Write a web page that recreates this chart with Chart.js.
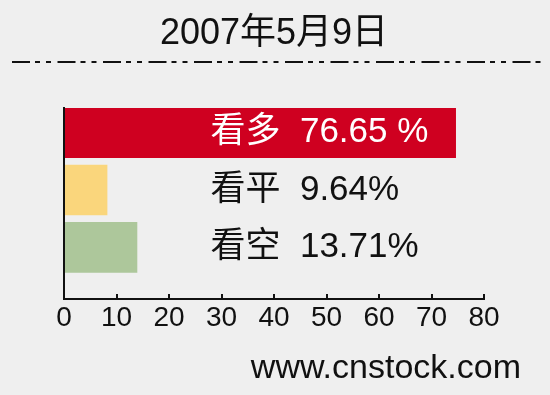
<!DOCTYPE html>
<html>
<head>
<meta charset="utf-8">
<script src="https://cdn.jsdelivr.net/npm/chart.js@4/dist/chart.umd.min.js"></script>
<style>
  html, body { margin: 0; padding: 0; background: #efefef; }
  #wrap { width: 550px; height: 395px; }
</style>
</head>
<body>
<div id="wrap"><canvas id="chart" width="550" height="395"></canvas></div>
<script>
// values
var titleText = '2007年5月9日';
var categories = ['看多', '看平', '看空'];
var barValues = [74.6, 8.2, 13.9];          // drawn bar lengths
var pctLabels = ['76.65 %', '9.64%', '13.71%'];
var xMin = 0, xMax = 80, xStep = 10;
var sourceText = 'www.cnstock.com';

var barColors = ['#cf0020', '#fad67c', '#adc79b'];
var labelColors = ['#ffffff', '#111111', '#111111'];
var FONT = '"Liberation Sans", "Noto Sans CJK SC", Arial, sans-serif';

var points = [];
for (var i = 0; i < categories.length; i++) {
    points.push({x: barValues[i], y: i});
}

// small tick marks pointing up into the plot, one per x tick
var innerTicks = {
    id: 'innerTicks',
    afterDraw: function(chart) {
        var ctx = chart.ctx;
        var xs = chart.scales.x;
        var bottom = chart.chartArea.bottom;
        ctx.save();
        ctx.strokeStyle = '#111';
        ctx.lineWidth = 2;
        xs.ticks.forEach(function(t) {
            var px = Math.round(xs.getPixelForValue(t.value));
            ctx.beginPath();
            ctx.moveTo(px, bottom);
            ctx.lineTo(px, bottom - 5);
            ctx.stroke();
        });
        ctx.restore();
    }
};

// text next to each bar, placed from the bar element itself
var barText = {
    id: 'barText',
    afterDatasetsDraw: function(chart) {
        var ctx = chart.ctx;
        var xs = chart.scales.x;
        var meta = chart.getDatasetMeta(0);
        ctx.save();
        ctx.font = '35px ' + FONT;
        ctx.textAlign = 'left';
        ctx.textBaseline = 'middle';
        meta.data.forEach(function(bar, i) {
            ctx.fillStyle = labelColors[i];
            ctx.fillText(categories[i] + '  ' + pctLabels[i], xs.getPixelForValue(27.9), bar.y);
        });
        ctx.restore();
    }
};

// dash-dot-dot rule under the title and the source line at the bottom
var decor = {
    id: 'decor',
    afterDraw: function(chart) {
        var ctx = chart.ctx;
        ctx.save();
        ctx.strokeStyle = '#111';
        ctx.lineWidth = 2;
        ctx.setLineDash([18, 5, 5, 6, 5, 6.5]);
        ctx.beginPath();
        ctx.moveTo(12, 62);
        ctx.lineTo(541, 62);
        ctx.stroke();
        ctx.setLineDash([]);
        ctx.fillStyle = '#111';
        ctx.font = '34px ' + FONT;
        ctx.textAlign = 'right';
        ctx.textBaseline = 'alphabetic';
        ctx.fillText(sourceText, 521, 378);
        ctx.restore();
    }
};

var ctx = document.getElementById('chart');
var chart = new Chart(ctx, {
    type: 'bar',
    data: {
        datasets: [{
            data: points,
            backgroundColor: barColors,
            borderWidth: 0,
            barThickness: 50
        }]
    },
    options: {
        indexAxis: 'y',
        responsive: false,
        animation: false,
        layout: {
            padding: {left: 64, right: 66, top: 0, bottom: 58.4}
        },
        scales: {
            x: {
                type: 'linear',
                min: xMin,
                max: xMax,
                offset: false,
                ticks: {
                    stepSize: xStep,
                    color: '#111',
                    padding: 2,
                    font: {family: FONT, size: 28}
                },
                grid: {display: false, drawTicks: false},
                border: {display: true, color: '#111', width: 2, z: 1}
            },
            y: {
                type: 'linear',
                reverse: true,
                offset: false,
                min: -0.43,
                max: 2.9,
                ticks: {display: false},
                grid: {display: false, drawTicks: false, offset: false},
                border: {display: true, color: '#111', width: 2, z: 1}
            }
        },
        plugins: {
            legend: {display: false},
            tooltip: {enabled: false},
            title: {
                display: true,
                text: titleText,
                color: '#111',
                font: {family: FONT, size: 36, weight: 'normal'},
                padding: {top: 12.6, bottom: 52.2}
            }
        }
    },
    plugins: [innerTicks, barText, decor]
});
</script>
</body>
</html>
